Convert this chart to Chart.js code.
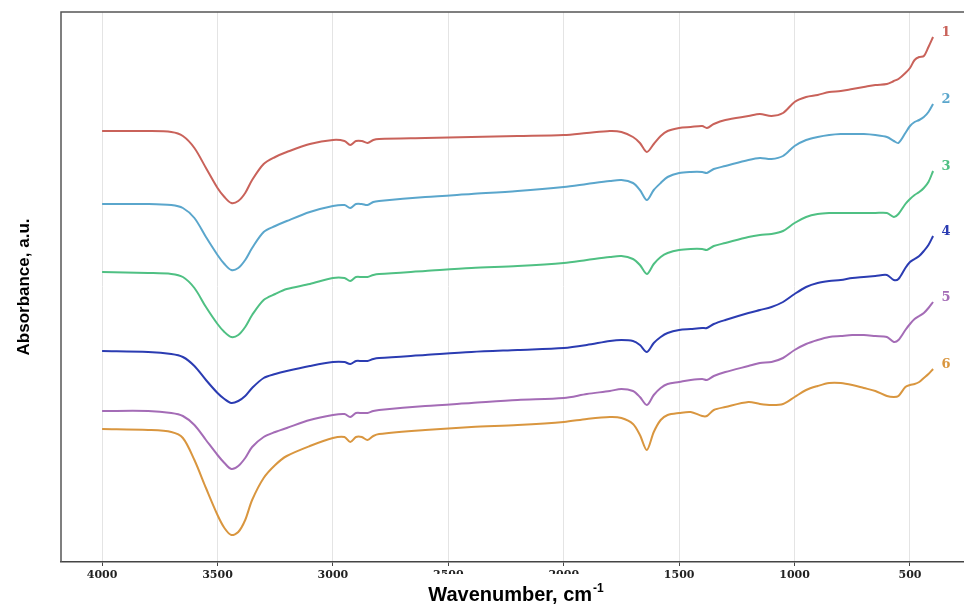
<!DOCTYPE html>
<html>
<head>
<meta charset="utf-8">
<script src="https://cdn.jsdelivr.net/npm/chart.js@4"></script>
<style>
  body { margin: 0; background: #fff; }
  #chartCanvas { display: block; }
</style>
</head>
<body>
<canvas id="chartCanvas" width="964" height="607"></canvas>
<script>
// wavenumbers (cm-1) where the spectra were read
const wavenumbers = [
    4000, 3800, 3700, 3650, 3600, 3550, 3500, 3470,
    3440, 3410, 3380, 3350, 3300, 3250, 3200, 3100,
    3000, 2950, 2925, 2900, 2875, 2850, 2825, 2800,
    2600, 2400, 2200, 2000, 1900, 1800, 1750, 1700,
    1670, 1640, 1610, 1580, 1550, 1500, 1450, 1400,
    1380, 1350, 1300, 1200, 1150, 1100, 1050, 1000,
    950, 900, 850, 800, 750, 700, 650, 600,
    570, 550, 520, 500, 480, 460, 440, 420, 400
];

const spectrum1 = [
    4.31, 4.31, 4.30, 4.26, 4.14, 3.94, 3.74, 3.65,
    3.59, 3.61, 3.69, 3.82, 3.98, 4.05, 4.10, 4.18,
    4.22, 4.21, 4.17, 4.21, 4.21, 4.19, 4.22, 4.23,
    4.24, 4.25, 4.26, 4.27, 4.29, 4.31, 4.30, 4.25,
    4.19, 4.10, 4.18, 4.26, 4.31, 4.34, 4.35, 4.36,
    4.34, 4.38, 4.42, 4.46, 4.48, 4.46, 4.49, 4.60,
    4.65, 4.67, 4.70, 4.71, 4.73, 4.75, 4.77, 4.78,
    4.81, 4.83, 4.89, 4.94, 5.02, 5.05, 5.06, 5.15, 5.25
];
const spectrum2 = [
    3.58, 3.58, 3.57, 3.54, 3.44, 3.25, 3.07, 2.98,
    2.92, 2.94, 3.02, 3.14, 3.30, 3.36, 3.41, 3.50,
    3.56, 3.57, 3.54, 3.58, 3.58, 3.57, 3.60, 3.61,
    3.65, 3.68, 3.71, 3.75, 3.78, 3.81, 3.82, 3.79,
    3.72, 3.62, 3.72, 3.79, 3.85, 3.89, 3.90, 3.90,
    3.89, 3.93, 3.96, 4.02, 4.04, 4.03, 4.06, 4.16,
    4.22, 4.25, 4.27, 4.28, 4.28, 4.28, 4.27, 4.25,
    4.21, 4.19, 4.29, 4.36, 4.40, 4.42, 4.45, 4.50, 4.58
];
const spectrum3 = [
    2.90, 2.89, 2.88, 2.85, 2.74, 2.55, 2.38, 2.30,
    2.25, 2.27, 2.35, 2.47, 2.62, 2.68, 2.73, 2.78,
    2.84, 2.84, 2.81, 2.85, 2.85, 2.85, 2.87, 2.88,
    2.91, 2.94, 2.96, 2.99, 3.02, 3.05, 3.06, 3.03,
    2.97, 2.88, 2.98, 3.05, 3.09, 3.12, 3.13, 3.13,
    3.12, 3.16, 3.19, 3.25, 3.27, 3.28, 3.31, 3.39,
    3.45, 3.48, 3.49, 3.49, 3.49, 3.49, 3.49, 3.49,
    3.45, 3.48, 3.58, 3.63, 3.67, 3.70, 3.74, 3.80, 3.91
];
const spectrum4 = [
    2.11, 2.10, 2.08, 2.05, 1.96, 1.82, 1.69, 1.63,
    1.59, 1.61, 1.66, 1.74, 1.84, 1.88, 1.91, 1.96,
    2.00, 2.00, 1.98, 2.01, 2.01, 2.01, 2.03, 2.04,
    2.07, 2.10, 2.12, 2.14, 2.17, 2.21, 2.22, 2.21,
    2.17, 2.10, 2.19, 2.25, 2.29, 2.32, 2.33, 2.34,
    2.34, 2.38, 2.42, 2.49, 2.52, 2.55, 2.60, 2.68,
    2.75, 2.79, 2.81, 2.82, 2.84, 2.85, 2.86, 2.87,
    2.82, 2.83, 2.94, 3.00, 3.03, 3.06, 3.11, 3.17, 3.26
];
const spectrum5 = [
    1.51, 1.51, 1.49, 1.46, 1.37, 1.22, 1.07, 0.99,
    0.93, 0.96, 1.04, 1.15, 1.25, 1.30, 1.34, 1.42,
    1.47, 1.48, 1.45, 1.49, 1.49, 1.49, 1.51, 1.52,
    1.56, 1.59, 1.62, 1.64, 1.68, 1.71, 1.73, 1.71,
    1.65, 1.57, 1.67, 1.74, 1.78, 1.80, 1.82, 1.83,
    1.82, 1.86, 1.90, 1.96, 1.99, 2.00, 2.04, 2.12,
    2.18, 2.22, 2.25, 2.26, 2.27, 2.27, 2.26, 2.25,
    2.20, 2.22, 2.32, 2.38, 2.43, 2.46, 2.49, 2.54, 2.60
];
const spectrum6 = [
    1.33, 1.32, 1.30, 1.24, 1.02, 0.74, 0.47, 0.34,
    0.27, 0.30, 0.42, 0.62, 0.84, 0.97, 1.06, 1.16,
    1.24, 1.25, 1.20, 1.25, 1.25, 1.22, 1.26, 1.28,
    1.32, 1.35, 1.37, 1.40, 1.43, 1.45, 1.44, 1.38,
    1.27, 1.12, 1.30, 1.42, 1.47, 1.49, 1.50, 1.46,
    1.46, 1.52, 1.55, 1.60, 1.58, 1.57, 1.58, 1.65,
    1.72, 1.76, 1.79, 1.79, 1.77, 1.74, 1.71, 1.66,
    1.65, 1.66, 1.75, 1.77, 1.78, 1.80, 1.84, 1.88, 1.93
];

const seriesLabels = ["1", "2", "3", "4", "5", "6"];
const tickValues = [4000, 3500, 3000, 2500, 2000, 1500, 1000, 500];

const spectra = [spectrum1, spectrum2, spectrum3, spectrum4, spectrum5, spectrum6];
const colors = ["#c9625a", "#5aa6cc", "#4fc083", "#2b3cb2", "#a46cb6", "#d9963f"];

const datasets = spectra.map((s, i) => ({
    label: seriesLabels[i],
    data: wavenumbers.map((w, j) => ({ x: w, y: s[j] })),
    borderColor: colors[i],
    borderWidth: 2,
    pointRadius: 0,
    fill: false,
    tension: 0.3,
}));

// frame, axis titles and curve numbers
const decorPlugin = {
    id: "decor",
    afterDatasetsDraw(chart) {
        const ctx = chart.ctx;
        ctx.save();
        ctx.font = "bold 13px 'DejaVu Serif'";
        ctx.textAlign = "center";
        ctx.textBaseline = "middle";
        chart.data.datasets.forEach((ds, i) => {
            const pts = chart.getDatasetMeta(i).data;
            const last = pts[pts.length - 1];
            ctx.fillStyle = colors[i];
            ctx.fillText(ds.label, last.x + 13, last.y - 4);
        });
        ctx.restore();
    },
    afterDraw(chart) {
        const ctx = chart.ctx;
        const a = chart.chartArea;
        ctx.save();
        ctx.strokeStyle = "#555";
        ctx.lineWidth = 1.5;
        ctx.beginPath();
        ctx.moveTo(a.left, a.bottom);
        ctx.lineTo(a.left, a.top);
        ctx.lineTo(chart.width, a.top);
        ctx.stroke();

        // x title with superscript
        const main = "Wavenumber, cm";
        const sup = "-1";
        ctx.font = "bold 20px 'Liberation Sans', Arial";
        const w1 = ctx.measureText(main).width;
        ctx.font = "bold 12px 'Liberation Sans', Arial";
        const w2 = ctx.measureText(sup).width;
        const cx = (a.left + a.right) / 2 + 3;
        const x0 = cx - (w1 + w2) / 2;
        ctx.fillStyle = "#fff";
        ctx.fillRect(x0 - 8, a.bottom + 12, w1 + w2 + 16, chart.height - a.bottom - 12);
        ctx.fillStyle = "#000";
        ctx.textBaseline = "alphabetic";
        ctx.textAlign = "left";
        ctx.font = "bold 20px 'Liberation Sans', Arial";
        ctx.fillText(main, x0, a.bottom + 39);
        ctx.font = "bold 12px 'Liberation Sans', Arial";
        ctx.fillText(sup, x0 + w1 + 1, a.bottom + 30);

        // y title
        ctx.translate(24, (a.top + a.bottom) / 2);
        ctx.rotate(-Math.PI / 2);
        ctx.font = "bold 17px 'Liberation Sans', Arial";
        ctx.textAlign = "center";
        ctx.textBaseline = "middle";
        ctx.fillText("Absorbance, a.u.", 0, 0);
        ctx.restore();
    }
};

new Chart(document.getElementById("chartCanvas"), {
    type: "line",
    data: { datasets: datasets },
    options: {
        responsive: false,
        animation: false,
        parsing: false,
        layout: { padding: { left: 61, top: 12, right: 0, bottom: 0 } },
        plugins: {
            legend: { display: false },
            tooltip: { enabled: false },
        },
        scales: {
            x: {
                type: "linear",
                reverse: true,
                min: 266,
                max: 4178,
                afterBuildTicks: (scale) => {
                    scale.ticks = tickValues.map(v => ({ value: v }));
                },
                afterFit: (scale) => { scale.height = 45; },
                grid: {
                    color: "#e4e4e4",
                    lineWidth: 1,
                    tickLength: 4,
                    tickColor: "#444",
                },
                border: { display: true, color: "#444", width: 1.5 },
                ticks: {
                    font: { family: "'DejaVu Serif'", weight: "bold", size: 11 },
                    color: "#222",
                    padding: 3,
                    maxRotation: 0,
                    autoSkip: false,
                    callback: (v) => String(v),
                },
            },
            y: {
                display: false,
                min: 0,
                max: 5.5,
            },
        },
    },
    plugins: [decorPlugin],
});
</script>
</body>
</html>
